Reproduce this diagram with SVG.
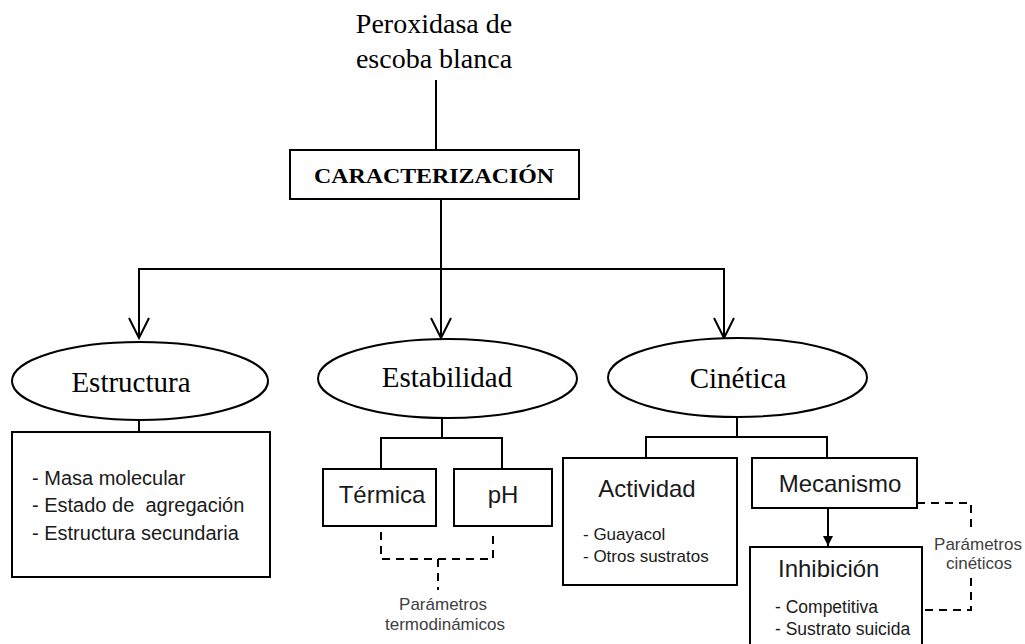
<svg xmlns="http://www.w3.org/2000/svg" width="1025" height="644" viewBox="0 0 1025 644">
<style>
.serif{font-family:"Liberation Serif","Times New Roman",serif;fill:#000}
.sans{font-family:"Liberation Sans",Arial,sans-serif;fill:#1a1a1a}
.shape{fill:#fff;stroke:#000;stroke-width:2}
.ln{fill:none;stroke:#000;stroke-width:2}
.dash{fill:none;stroke:#000;stroke-width:2;stroke-dasharray:8 6}
.note{font-family:"Liberation Sans",Arial,sans-serif;fill:#404040;font-size:17px}
</style>
<defs>
<marker id="open" markerUnits="userSpaceOnUse" viewBox="-22 -12 24 24" refX="0" refY="0" markerWidth="24" markerHeight="24" orient="auto">
<path d="M-20,-10 L0,0 L-20,10" fill="none" stroke="#000" stroke-width="2"/>
</marker>
<marker id="solid" markerUnits="userSpaceOnUse" viewBox="-11 -6 12 12" refX="0" refY="0" markerWidth="12" markerHeight="12" orient="auto">
<path d="M-10,-5 L0,0 L-10,5 Z" fill="#000"/>
</marker>
</defs>

<g id="connectors">
<line class="ln" x1="436" y1="80" x2="436" y2="150"/>
<line class="ln" x1="441" y1="199" x2="441" y2="269"/>
<polyline class="ln" points="139,269 724,269"/>
<line class="ln" x1="139" y1="268" x2="139" y2="338" marker-end="url(#open)"/>
<line class="ln" x1="441" y1="268" x2="441" y2="338" marker-end="url(#open)"/>
<line class="ln" x1="724" y1="268" x2="724" y2="338" marker-end="url(#open)"/>
<line class="ln" x1="139" y1="420" x2="139" y2="432"/>
<polyline class="ln" points="442,418 442,438"/>
<polyline class="ln" points="381,469 381,438 502,438 502,469"/>
<polyline class="ln" points="737,417 737,437"/>
<polyline class="ln" points="646,458 646,437 827,437 827,458"/>
<line class="ln" x1="828" y1="508" x2="828" y2="546" marker-end="url(#solid)"/>
<polyline class="dash" points="381,532 381,559 493,559 493,532"/>
<line class="dash" x1="438" y1="559" x2="438" y2="590"/>
<polyline class="dash" points="917,503 971,503 971,530"/>
<polyline class="dash" points="971,578 971,610 922,610"/>
</g>

<g id="title">
<text class="serif" x="434" y="33" font-size="28" text-anchor="middle">Peroxidasa de</text>
<text class="serif" x="434" y="68" font-size="28" text-anchor="middle">escoba blanca</text>
</g>

<g id="caracterizacion">
<rect class="shape" x="290" y="150" width="289" height="49"/>
<text class="serif" x="434" y="183" font-size="21" font-weight="bold" text-anchor="middle" textLength="240" lengthAdjust="spacingAndGlyphs">CARACTERIZACIÓN</text>
</g>

<g id="estructura">
<ellipse class="shape" cx="140" cy="381" rx="128" ry="39"/>
<text class="serif" x="131" y="392" font-size="29" text-anchor="middle">Estructura</text>
</g>

<g id="estabilidad">
<ellipse class="shape" cx="447.5" cy="378.5" rx="129.5" ry="39.5"/>
<text class="serif" x="447" y="387" font-size="29" text-anchor="middle">Estabilidad</text>
</g>

<g id="cinetica">
<ellipse class="shape" cx="737.5" cy="377.5" rx="129.5" ry="39.5"/>
<text class="serif" x="738" y="388" font-size="29" text-anchor="middle">Cinética</text>
</g>

<g id="estructura-detalle">
<rect class="shape" x="12" y="432" width="258" height="145"/>
<text class="sans" x="32" y="485" font-size="20">- Masa molecular</text>
<text class="sans" x="32" y="512" font-size="20" xml:space="preserve">- Estado de  agregación</text>
<text class="sans" x="32" y="540" font-size="20">- Estructura secundaria</text>
</g>

<g id="termica">
<rect class="shape" x="323" y="469" width="113" height="57"/>
<text class="sans" x="382" y="503" font-size="24" text-anchor="middle">Térmica</text>
</g>

<g id="ph">
<rect class="shape" x="454" y="469" width="98" height="57"/>
<text class="sans" x="503" y="503" font-size="24" text-anchor="middle">pH</text>
</g>

<g id="parametros-termo">
<text class="note" x="443" y="610" text-anchor="middle">Parámetros</text>
<text class="note" x="445" y="630" text-anchor="middle">termodinámicos</text>
</g>

<g id="actividad">
<rect class="shape" x="563" y="458" width="174" height="127"/>
<text class="sans" x="647" y="497" font-size="24" text-anchor="middle">Actividad</text>
<text class="sans" x="583" y="540" font-size="17">- Guayacol</text>
<text class="sans" x="583" y="562" font-size="17">- Otros sustratos</text>
</g>

<g id="mecanismo">
<rect class="shape" x="752" y="458" width="165" height="50"/>
<text class="sans" x="840" y="492" font-size="24" text-anchor="middle">Mecanismo</text>
</g>

<g id="inhibicion">
<rect class="shape" x="750" y="547" width="172" height="110"/>
<text class="sans" x="778" y="577" font-size="24">Inhibición</text>
<text class="sans" x="775" y="613" font-size="17.5">- Competitiva</text>
<text class="sans" x="775" y="635" font-size="17.5">- Sustrato suicida</text>
</g>

<g id="parametros-cineticos">
<text class="note" x="978" y="550" text-anchor="middle">Parámetros</text>
<text class="note" x="979" y="569" text-anchor="middle">cinéticos</text>
</g>
</svg>
